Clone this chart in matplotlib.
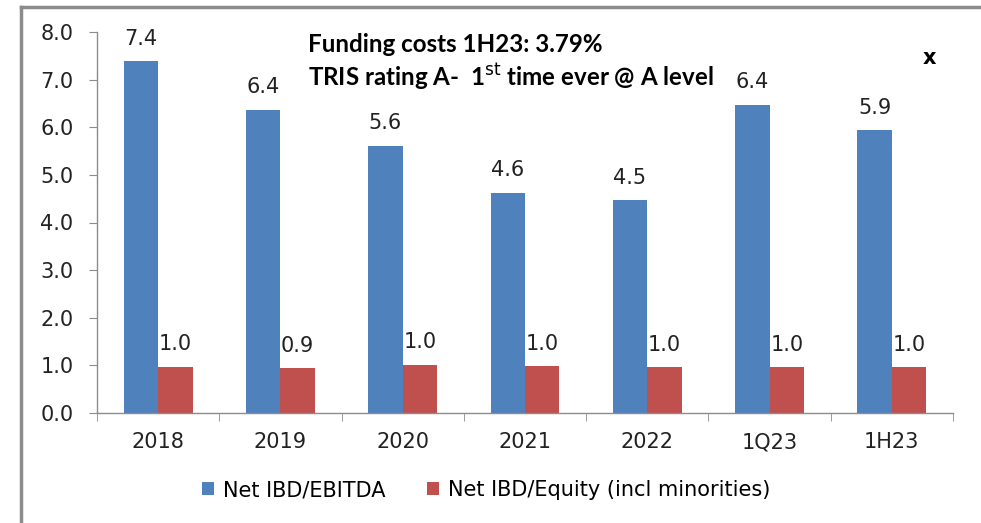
import numpy as np
import matplotlib.pyplot as plt
from matplotlib.lines import Line2D

categories = ["2018", "2019", "2020", "2021", "2022", "1Q23", "1H23"]
ibd_ebitda = [7.39, 6.37, 5.61, 4.62, 4.47, 6.47, 5.94]
ibd_equity = [0.97, 0.94, 1.01, 0.98, 0.96, 0.96, 0.96]
ebitda_labels = ["7.4", "6.4", "5.6", "4.6", "4.5", "6.4", "5.9"]
equity_labels = ["1.0", "0.9", "1.0", "1.0", "1.0", "1.0", "1.0"]

blue = "#4f81bd"
red = "#c0504d"
grey = "#8c8c8c"
fs = 15

W, H = 981, 523
fig = plt.figure(figsize=(W / 100, H / 100), dpi=100)
ax = fig.add_axes([97 / W, (H - 413) / H, (953 - 97) / W, (413 - 32) / H])

x = np.arange(len(categories))
bw = 0.282
ax.bar(x - bw / 2, ibd_ebitda, bw, color=blue, label="Net IBD/EBITDA")
ax.bar(x + bw / 2, ibd_equity, bw, color=red, label="Net IBD/Equity (incl minorities)")

for i in range(len(categories)):
    ax.annotate(ebitda_labels[i], (x[i] - bw / 2, ibd_ebitda[i]), xytext=(0, 9),
                textcoords="offset points", ha="center", va="bottom", fontsize=fs, color="#222222")
    ax.annotate(equity_labels[i], (x[i] + bw / 2, ibd_equity[i]), xytext=(0, 9),
                textcoords="offset points", ha="center", va="bottom", fontsize=fs, color="#222222")

ax.set_xlim(-0.5, len(categories) - 0.5)
ax.set_ylim(0, 8)
ax.set_yticks(np.arange(0, 8.1, 1.0))
ax.set_yticklabels(["%.1f" % v for v in np.arange(0, 8.1, 1.0)], fontsize=fs, color="#222222")
ax.set_xticks(x)
ax.set_xticklabels(categories, fontsize=fs, color="#222222")
ax.set_xticks(np.arange(-0.5, len(categories)), minor=True)
ax.tick_params(axis="x", which="major", length=0, pad=14)
ax.tick_params(axis="x", which="minor", length=6, color=grey, direction="out")
ax.tick_params(axis="y", length=6, color=grey, direction="out", pad=11)
for s in ["top", "right"]:
    ax.spines[s].set_visible(False)
for s in ["left", "bottom"]:
    ax.spines[s].set_color(grey)
    ax.spines[s].set_linewidth(1)

fig.text(308 / W, 1 - 44 / H, "Funding costs 1H23: 3.79%", fontsize=17.4, fontweight="bold",
         family="Lato", va="center", ha="left")
fig.text(308 / W, 1 - 77 / H, r"TRIS rating A-  1$^{\mathrm{st}}$ time ever @ A level", fontsize=17.4,
         fontweight="bold", family="Lato", va="center", ha="left")
fig.text(929 / W, 1 - 58 / H, "x", fontsize=15, fontweight="bold", va="center", ha="center")

fig.legend(*ax.get_legend_handles_labels(), loc="center", bbox_to_anchor=(486 / W, 1 - 490 / H),
           ncol=2, frameon=False, fontsize=fs, handlelength=0.6, handleheight=0.6,
           handletextpad=0.4, columnspacing=2.0)

# outer frame
fig.add_artist(Line2D([21 / W, 21 / W], [0, 1 - 7 / H], color=grey, lw=2.5))
fig.add_artist(Line2D([21 / W, 1], [1 - 7 / H, 1 - 7 / H], color=grey, lw=2.5))

fig.savefig("out.png", dpi=100)
